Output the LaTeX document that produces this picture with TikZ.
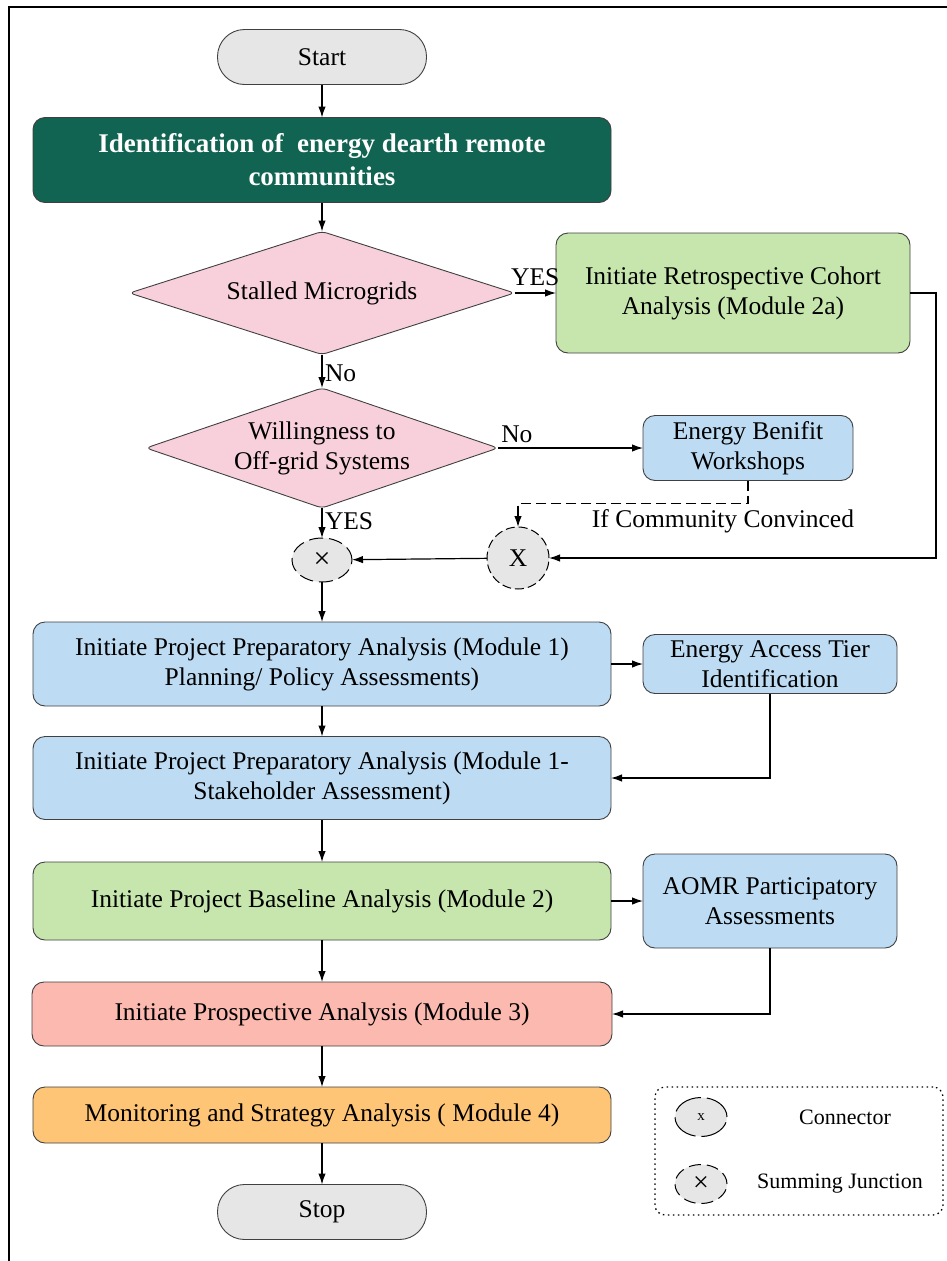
\documentclass[tikz,border=0pt]{standalone}
\usepackage{fontspec}
\setmainfont{Liberation Serif}
\usetikzlibrary{arrows.meta,shapes.geometric}
\definecolor{c116352}{RGB}{17,99,82}
\definecolor{cf8d0dc}{RGB}{248,208,220}
\definecolor{cc6e6ad}{RGB}{198,230,173}
\definecolor{cbddcf3}{RGB}{189,220,243}
\definecolor{cfbb9b0}{RGB}{251,185,176}
\definecolor{cfec576}{RGB}{254,197,118}
\definecolor{ce6e6e6}{RGB}{230,230,230}
\definecolor{c404040}{RGB}{64,64,64}

\begin{document}
\begin{tikzpicture}[x=1pt, y=-1pt, inner sep=0pt, outer sep=0pt,
  font=\fontsize{25.5}{30}\selectfont,
  box/.style={draw=c404040, line width=0.9pt, rounded corners=12pt, align=center},
  term/.style={draw=c404040, line width=0.9pt, fill=ce6e6e6, rounded corners=27pt,
    minimum width=209pt, minimum height=55pt},
  decide/.style={diamond, draw=c404040, line width=0.9pt, fill=cf8d0dc, aspect=3,
    align=center, rounded corners=5pt},
  conn/.style={ellipse, draw=black, line width=1pt, fill=ce6e6e6},
  flow/.style={-{Latex[length=11pt,width=7.5pt]}, line width=1.2pt},
  lbl/.style={inner sep=3pt}]
  \useasboundingbox (0,0) rectangle (946,1261);
  \draw[line width=1.4pt] (9,1270) -- (9,7) -- (950,7);
  \node[term] (start) at (322,57) {Start};
  \node[box, fill=c116352, text=white, minimum width=578pt, minimum height=85pt,
    font=\fontsize{27}{33}\selectfont\bfseries] (ident) at (322,160)
    {Identification of\ \ energy dearth remote\\communities};
  \node[decide, minimum width=385pt, minimum height=123pt] (stall) at (322,293)
    {Stalled Microgrids};
  \node[box, fill=cc6e6ad, minimum width=354pt, minimum height=120pt] (retro) at (733,293)
    {Initiate Retrospective Cohort\\Analysis (Module 2a)};
  \node[decide, minimum width=352pt, minimum height=120pt] (will) at (322,448)
    {Willingness to\\Off-grid Systems};
  \node[box, fill=cbddcf3, minimum width=210pt, minimum height=65pt] (bene) at (748,448)
    {Energy Benifit\\Workshops};
  \node[conn, minimum width=62pt, minimum height=62pt, dash pattern=on 9pt off 4pt]
    (cx) at (518,558) {X};
  \node[conn, minimum width=60pt, minimum height=44pt, dash pattern=on 14pt off 6pt,
    font=\fontsize{30}{30}\selectfont] (sum) at (322,560) {×};
  \node (conv) at (723,521) {If Community Convinced};
  \node[box, fill=cbddcf3, minimum width=578pt, minimum height=84pt] (prep) at (322,664)
    {Initiate Project Preparatory Analysis (Module 1)\\Planning/ Policy Assessments)};
  \node[box, fill=cbddcf3, minimum width=254pt, minimum height=59pt] (tier) at (770,664)
    {Energy Access Tier\\Identification};
  \node[box, fill=cbddcf3, minimum width=578pt, minimum height=83pt] (stake) at (322,778)
    {Initiate Project Preparatory Analysis (Module 1-\\Stakeholder Assessment)};
  \node[box, fill=cc6e6ad, minimum width=578pt, minimum height=78pt] (base) at (322,901)
    {Initiate Project Baseline Analysis (Module 2)};
  \node[box, fill=cbddcf3, minimum width=254pt, minimum height=94pt] (aomr) at (770,901)
    {AOMR Participatory\\Assessments};
  \node[box, fill=cfbb9b0, minimum width=580pt, minimum height=64pt] (prosp) at (322,1014)
    {Initiate Prospective Analysis (Module 3)};
  \node[box, fill=cfec576, minimum width=578pt, minimum height=56pt] (monit) at (322,1115)
    {Monitoring and Strategy Analysis ( Module 4)};
  \node[term] (stop) at (322,1212) {Stop};
  \draw[flow] (start) -- (ident);
  \draw[flow] (ident) -- (stall);
  \draw[flow] (stall) -- node[lbl, above, inner sep=7pt] {YES} (retro);
  \draw[flow] (stall) -- node[lbl, right, pos=0.55] {No} (will);
  \draw[flow] (will) -- node[lbl, above, pos=0.13, inner sep=5pt] {No} (bene);
  \draw[flow] (will) -- node[lbl, right, pos=0.45] {YES} (sum);
  \draw[flow, dash pattern=on 10pt off 5pt] (bene.south) -- ++(0,23) -| (cx.north);
  \draw[flow] (retro.east) -- ++(26,0) |- (cx.east);
  \draw[flow] (cx) -- (sum);
  \draw[flow] (sum) -- (prep);
  \draw[flow] (prep) -- (tier);
  \draw[flow] (tier.south) |- (stake.east);
  \draw[flow] (prep) -- (stake);
  \draw[flow] (stake) -- (base);
  \draw[flow] (base) -- (aomr);
  \draw[flow] (aomr.south) |- (prosp.east);
  \draw[flow] (base) -- (prosp);
  \draw[flow] (prosp) -- (monit);
  \draw[flow] (monit) -- (stop);
  \node[draw, line width=1.3pt, dash pattern=on 1.5pt off 3.5pt, rounded corners=10pt,
    minimum width=288pt, minimum height=128pt] (legend) at (799,1151) {};
  \node[conn, minimum width=52pt, minimum height=39pt, dash pattern=on 30pt off 6pt,
    font=\fontsize{15}{15}\selectfont] (lconn) at (701,1117) {x};
  \node[conn, minimum width=52pt, minimum height=39pt, dash pattern=on 12pt off 6pt,
    font=\fontsize{28}{28}\selectfont] (lsum) at (701,1184) {×};
  \node[font=\fontsize{22}{22}\selectfont] (lconntext) at (845,1117) {Connector};
  \node[font=\fontsize{22}{22}\selectfont] (lsumtext) at (840,1184) {Summing Junction};
\end{tikzpicture}
\end{document}
